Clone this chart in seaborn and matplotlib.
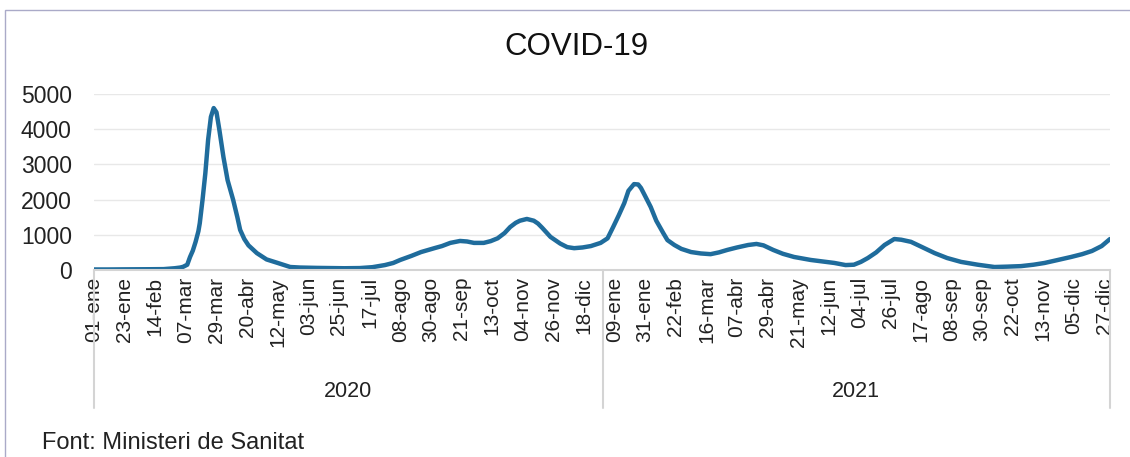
import pandas as pd
import numpy as np
import matplotlib.pyplot as plt
import seaborn as sns
from matplotlib.patches import Rectangle

# ── data (days since 01-ene-2020) ───────────────────────────────────────────
days = [0, 10, 20, 30, 40, 50, 58, 62, 64, 67, 69, 71, 73, 75, 76, 78, 80, 82, 84, 86,
        88, 90, 93, 96, 100, 103, 105, 108, 111, 117, 124, 132, 141, 148, 160, 170, 180,
        191, 200, 209, 215, 220, 228, 235, 245, 250, 256, 263, 268, 273, 280, 285, 290,
        295, 299, 303, 306, 311, 316, 319, 322, 325, 328, 335, 340, 345, 351, 357, 364,
        369, 373, 377, 381, 384, 388, 391, 393, 396, 400, 404, 409, 412, 417, 422, 429,
        436, 443, 449, 455, 462, 470, 476, 481, 488, 495, 503, 515, 532, 540, 546, 551,
        556, 562, 568, 575, 580, 587, 595, 604, 613, 623, 635, 647, 656, 666, 675, 683,
        692, 702, 710, 717, 724, 730]
cases = [15, 15, 18, 20, 22, 25, 50, 70, 90, 150, 370, 550, 800, 1100, 1330, 2000, 2750,
         3700, 4350, 4600, 4480, 4000, 3210, 2550, 1990, 1500, 1140, 880, 700, 480, 300,
         200, 85, 70, 60, 55, 50, 55, 80, 140, 200, 285, 400, 510, 625, 680, 770, 825, 810,
         770, 770, 820, 900, 1050, 1220, 1340, 1400, 1450, 1400, 1320, 1200, 1070, 940,
         750, 650, 620, 640, 680, 770, 900, 1220, 1550, 1900, 2250, 2440, 2430, 2330, 2100,
         1790, 1400, 1050, 850, 710, 600, 510, 470, 450, 500, 570, 640, 710, 740, 700, 570,
         460, 370, 285, 200, 140, 150, 230, 340, 500, 710, 880, 860, 800, 650, 480, 340,
         230, 150, 85, 95, 110, 150, 200, 280, 370, 450, 540, 680, 880]

tick_labels = ["01-ene", "23-ene", "14-feb", "07-mar", "29-mar", "20-abr", "12-may",
               "03-jun", "25-jun", "17-jul", "08-ago", "30-ago", "21-sep", "13-oct",
               "04-nov", "26-nov", "18-dic",
               "09-ene", "31-ene", "22-feb", "16-mar", "07-abr", "29-abr", "21-may",
               "12-jun", "04-jul", "26-jul", "17-ago", "08-sep", "30-sep", "22-oct",
               "13-nov", "05-dic", "27-dic"]
years = ["2020", "2021"]
year_days = [366, 365]

df = pd.DataFrame({"day": days, "cases": cases})

# ── style ───────────────────────────────────────────────────────────────────
sns.set_theme(style="white")
plt.rcParams["font.family"] = ["Liberation Sans", "DejaVu Sans"]

LINE_COLOUR = "#1f6c9c"
GRID_COLOUR = "#e8e8e8"
AXIS_COLOUR = "#d4d4d4"

fig = plt.figure(figsize=(11.3, 4.57), dpi=100)
ax = fig.add_axes([94 / 1130, 1 - 270 / 457, 1016 / 1130, 176 / 457])

sns.lineplot(data=df, x="day", y="cases", ax=ax, color=LINE_COLOUR, linewidth=3.2)

ax.set_xlim(0, sum(year_days) - 1)
ax.set_ylim(0, 5000)
ax.set_yticks(range(0, 5001, 1000))
ax.yaxis.grid(True, color=GRID_COLOUR, linewidth=1)
ax.set_axisbelow(True)
for side in ["top", "right", "left"]:
    ax.spines[side].set_visible(False)
ax.spines["bottom"].set_color(AXIS_COLOUR)
ax.spines["bottom"].set_linewidth(1.5)

ax.set_xticks(range(0, 22 * len(tick_labels), 22))
ax.set_xticklabels(tick_labels, rotation=90, fontsize=15, color="#222222")
ax.tick_params(axis="x", length=0, pad=5)
ax.tick_params(axis="y", length=0, pad=16, labelsize=16.5, labelcolor="#222222")
ax.set_xlabel("")
ax.set_ylabel("")

# year group axis below the date labels
trans = ax.get_xaxis_transform()
bounds = np.concatenate([[0], np.cumsum(year_days)]) - 0.5
bounds[0] = 0
bounds[-1] = sum(year_days) - 1
for b in bounds:
    ax.plot([b, b], [0, -0.785], transform=trans, color=AXIS_COLOUR,
            linewidth=1.5, clip_on=False)
for yr, lo, hi in zip(years, bounds[:-1], bounds[1:]):
    ax.text((lo + hi) / 2, -0.693, yr, transform=trans, ha="center", va="center",
            fontsize=15.5, color="#222222")

fig.text(0.5105, 1 - 47 / 457, "COVID-19", ha="center", va="center", fontsize=22.5,
         color="#111111")
fig.text(42 / 1130, 1 - 443 / 457, "Font: Ministeri de Sanitat", ha="left",
         va="center", fontsize=17, color="#222222")

fig.add_artist(Rectangle((5 / 1130, -0.05), 1.2, 1.028, transform=fig.transFigure,
                         fill=False, edgecolor="#aaaac8", linewidth=1, clip_on=False))

fig.savefig("out.png", dpi=100)
plt.close(fig)
